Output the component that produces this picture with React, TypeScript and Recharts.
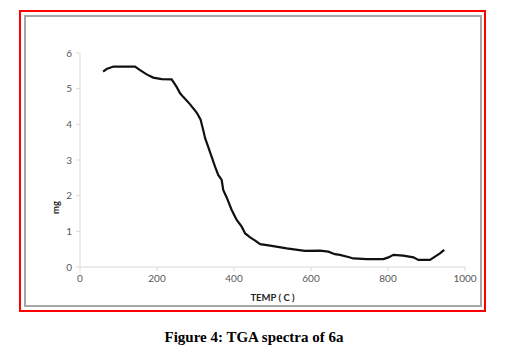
import { LineChart, Line, XAxis, YAxis, Label } from 'recharts';

// TGA curve of 6a: temperature (C) vs mass (mg)
const temps = [
  60, 69, 87, 117, 143, 156, 173, 190, 212, 238, 251, 260, 268, 286, 303, 313,
  320, 325, 333, 342, 351, 359, 368, 372, 381, 394, 407, 420, 429, 442, 455,
  468, 494, 537, 584, 623, 645, 662, 675, 697, 710, 745, 788, 801, 814, 840,
  866, 879, 909, 922, 935, 946,
];
const masses = [
  5.48, 5.55, 5.62, 5.62, 5.62, 5.52, 5.4, 5.31, 5.27, 5.26, 5.05, 4.87, 4.77,
  4.56, 4.33, 4.14, 3.84, 3.61, 3.37, 3.09, 2.81, 2.58, 2.44, 2.16, 1.95, 1.6,
  1.32, 1.13, 0.94, 0.83, 0.74, 0.64, 0.6, 0.52, 0.45, 0.46, 0.43, 0.36, 0.34,
  0.28, 0.24, 0.22, 0.22, 0.27, 0.34, 0.32, 0.27, 0.2, 0.2, 0.29, 0.38, 0.48,
];
const xTicks = [0, 200, 400, 600, 800, 1000];
const yTicks = [0, 1, 2, 3, 4, 5, 6];

const data = temps.map((t, i) => ({ temp: t, mg: masses[i] }));

const tickStyle = { fontSize: 10, fill: '#595959', fontFamily: 'Lato, sans-serif' };
const labelStyle = { fontSize: 9.5, fontWeight: 'bold', fill: '#262626', fontFamily: 'Lato, sans-serif' };

export default function App() {
  return (
    <div style={{ position: 'absolute', left: 0, top: 0, width: 508, height: 354, background: '#fff' }}>
      {/* red outer frame */}
      <div
        style={{
          position: 'absolute',
          left: 19,
          top: 10,
          width: 463,
          height: 298,
          border: '2px solid #ff0000',
        }}
      />
      {/* gray chart frame */}
      <div
        style={{
          position: 'absolute',
          left: 24,
          top: 15,
          width: 454,
          height: 288,
          border: '2px solid #a6a6a6',
        }}
      />
      <div style={{ position: 'absolute', left: 0, top: 0 }}>
        <LineChart
          width={508}
          height={354}
          data={data}
          margin={{ top: 53, right: 43, bottom: 51, left: 40 }}
        >
          <XAxis
            dataKey="temp"
            type="number"
            domain={[0, 1000]}
            ticks={xTicks}
            height={36}
            stroke="#d9d9d9"
            tickSize={4}
            tick={tickStyle}
            tickMargin={4}
          >
            <Label value="TEMP ( C )" position="insideBottom" offset={2} style={labelStyle} />
          </XAxis>
          <YAxis
            type="number"
            domain={[0, 6]}
            ticks={yTicks}
            width={40}
            stroke="#d9d9d9"
            tickSize={4}
            tickMargin={4}
            tick={tickStyle}
          >
            <Label
              value="mg"
              angle={-90}
              position="insideLeft"
              offset={16}
              dy={54}
              style={labelStyle}
            />
          </YAxis>
          <Line
            type="linear"
            dataKey="mg"
            stroke="#111"
            strokeWidth={2.2}
            dot={false}
            isAnimationActive={false}
          />
        </LineChart>
      </div>
      <div
        style={{
          position: 'absolute',
          left: 0,
          width: 508,
          top: 329,
          textAlign: 'center',
          fontFamily: '"Liberation Serif", "Times New Roman", serif',
          fontWeight: 'bold',
          fontSize: 15,
        }}
      >
        Figure 4: TGA spectra of 6a
      </div>
    </div>
  );
}
